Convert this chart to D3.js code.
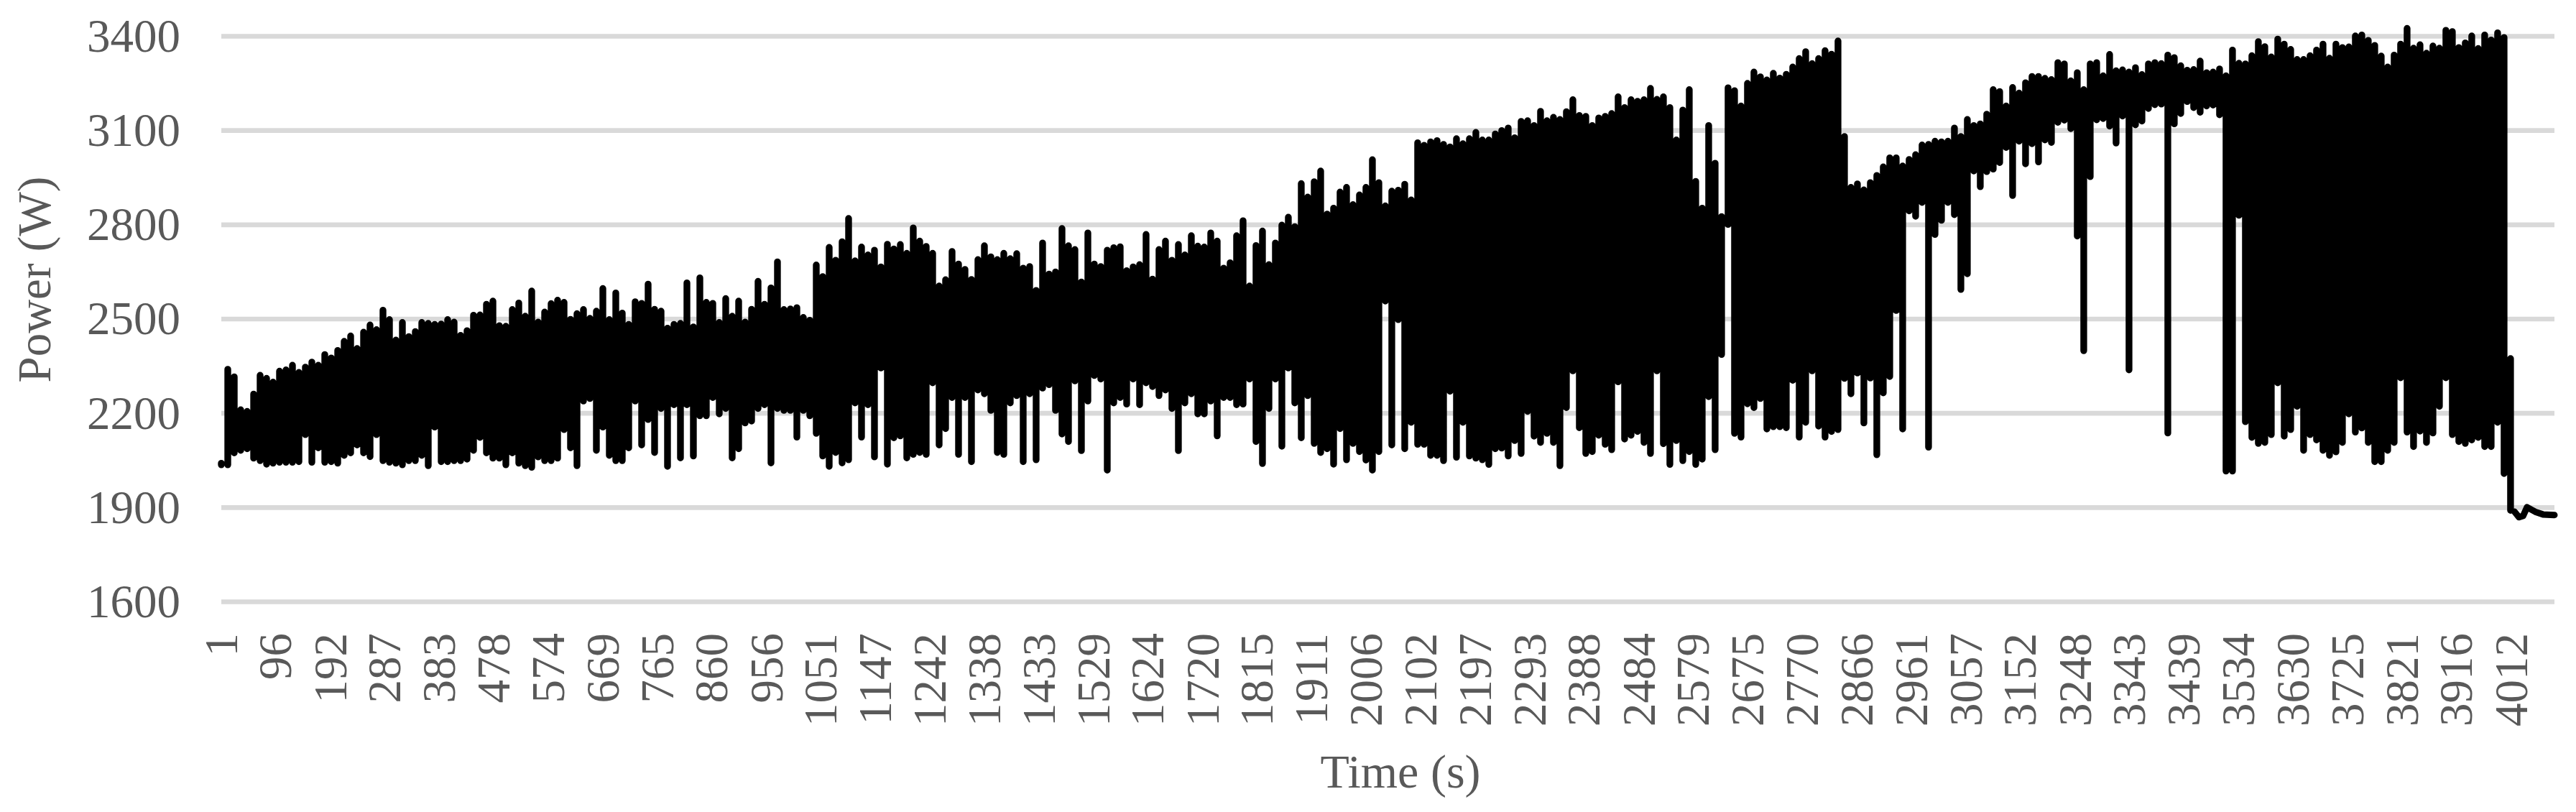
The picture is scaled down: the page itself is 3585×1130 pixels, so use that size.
<!DOCTYPE html>
<html>
<head>
<meta charset="utf-8">
<script src="https://cdnjs.cloudflare.com/ajax/libs/d3/7.9.0/d3.min.js"></script>
<style>
html,body{margin:0;padding:0;background:#fff;}
svg{display:block;}
text{font-family:"Liberation Serif","Times New Roman",serif;fill:#595959;}
</style>
</head>
<body>
<svg id="chart" width="3585" height="1130"></svg>
<script>
const powerTicks = [1600,1900,2200,2500,2800,3100,3400];
const timeTicks = [1,96,192,287,383,478,574,669,765,860,956,1051,1147,1242,1338,1433,1529,1624,1720,1815,1911,2006,2102,2197,2293,2388,2484,2579,2675,2770,2866,2961,3057,3152,3248,3343,3439,3534,3630,3725,3821,3916,4012];
const xTitle = "Time (s)";
const yTitle = "Power (W)";
const sampleStep = 11.328;
const powerHigh = [
2040,2339,2315,2210,2205,2260,2320,2310,2298,2333,
2337,2352,2329,2346,2362,2352,2386,2375,2399,2428,
2445,2405,2457,2480,2465,2527,2497,2432,2488,2443,
2459,2488,2485,2482,2483,2497,2489,2447,2462,2511,
2512,2546,2556,2478,2476,2529,2550,2508,2588,2489,
2521,2548,2559,2552,2498,2516,2529,2501,2524,2596,
2497,2582,2518,2482,2554,2549,2610,2530,2524,2470,
2482,2485,2614,2474,2630,2552,2549,2488,2564,2508,
2556,2489,2530,2619,2546,2598,2681,2529,2531,2535,
2504,2495,2671,2634,2727,2686,2745,2819,2684,2728,
2703,2718,2665,2737,2722,2736,2708,2789,2747,2730,
2708,2604,2624,2714,2674,2657,2625,2688,2732,2697,
2688,2708,2691,2707,2661,2666,2590,2741,2642,2649,
2787,2732,2720,2617,2773,2674,2666,2718,2726,2729,
2653,2665,2672,2768,2626,2720,2747,2686,2736,2703,
2764,2731,2728,2773,2747,2661,2678,2764,2812,2604,
2733,2779,2672,2741,2798,2823,2793,2930,2887,2936,
2970,2833,2852,2903,2918,2863,2894,2918,3006,2933,
2859,2906,2909,2928,2878,3060,3052,3063,3067,3055,
3047,3073,3057,3073,3093,3069,3069,3088,3099,3107,
3076,3128,3130,3115,3160,3130,3141,3134,3159,3197,
3147,3144,3115,3139,3144,3153,3206,3172,3197,3192,
3197,3233,3198,3206,3172,3069,3164,3229,2937,2852,
3115,2995,2825,3235,3226,3177,3249,3285,3270,3260,
3281,3266,3278,3301,3328,3350,3312,3328,3353,3342,
3384,3080,2918,2929,2910,2933,2956,2983,3012,3012,
2986,3007,3022,3053,3055,3065,3063,3065,3107,3080,
3134,3115,3120,3151,3229,3223,3177,3236,3218,3251,
3271,3271,3265,3261,3315,3311,3257,3283,3229,3311,
3315,3273,3341,3289,3292,3285,3299,3277,3311,3315,
3312,3339,3331,3305,3291,3293,3320,3283,3285,3295,
3273,3355,3313,3311,3337,3382,3366,3333,3390,3374,
3357,3325,3325,3337,3355,3374,3329,3374,3363,3365,
3400,3403,3386,3370,3336,3301,3339,3374,3424,3361,
3372,3345,3368,3361,3418,3414,3363,3378,3400,3360,
3403,3387,3410,3395,2373];
const powerLow = [
2035,2035,2073,2081,2086,2056,2048,2037,2040,2043,
2043,2043,2045,2131,2043,2089,2043,2045,2040,2065,
2073,2098,2073,2061,2131,2048,2043,2040,2035,2048,
2048,2065,2032,2155,2045,2045,2048,2048,2053,2081,
2122,2073,2056,2056,2035,2073,2040,2032,2027,2060,
2048,2048,2056,2147,2089,2032,2238,2246,2081,2155,
2065,2048,2048,2089,2238,2098,2179,2074,2214,2030,
2226,2057,2226,2063,2191,2191,2249,2197,2214,2057,
2086,2168,2174,2214,2226,2041,2214,2208,2208,2123,
2208,2191,2135,2063,2030,2074,2041,2051,2232,2123,
2226,2060,2343,2037,2121,2127,2057,2068,2074,2068,
2296,2098,2150,2249,2068,2249,2045,2273,2261,2208,
2074,2068,2232,2255,2045,2261,2051,2279,2290,2208,
2133,2109,2302,2080,2238,2319,2308,2018,2232,2249,
2228,2308,2226,2296,2284,2255,2273,2214,2080,2232,
2261,2197,2197,2238,2127,2249,2249,2226,2228,2308,
2109,2039,2214,2308,2094,2343,2232,2121,2255,2103,
2074,2086,2037,2150,2051,2103,2077,2050,2018,2077,
2556,2098,2497,2086,2170,2100,2100,2065,2065,2048,
2269,2059,2170,2063,2056,2051,2036,2086,2088,2063,
2112,2071,2205,2126,2106,2135,2106,2032,2217,2334,
2153,2071,2077,2129,2100,2083,2299,2117,2129,2141,
2106,2071,2334,2102,2036,2112,2048,2077,2036,2053,
2252,2083,2386,2800,2135,2123,2229,2217,2246,2149,
2156,2156,2153,2304,2123,2170,2334,2158,2123,2141,
2147,2310,2261,2327,2168,2311,2067,2264,2316,2526,
2149,2843,2826,2870,2091,2768,2813,2870,2831,2593,
2643,2970,2920,2968,2976,2997,3045,2892,3065,2993,
3057,2999,3069,3061,3125,3132,3105,2763,2398,2952,
3133,3137,3113,3059,3145,2337,3117,3129,3169,3181,
3183,2136,3120,3153,3191,3172,3157,3177,3180,3149,
2015,2015,2829,2172,2122,2103,2106,2131,2296,2126,
2147,2221,2081,2131,2114,2081,2065,2076,2106,2197,
2139,2152,2106,2045,2045,2081,2106,2312,2139,2093,
2142,2106,2136,2221,2312,2131,2109,2103,2114,2122,
2093,2093,2170,2007,1890];
const tailSeconds = [4018,4026,4033,4040,4048,4056,4068,4088];
const tailPower = [1886,1868,1872,1900,1892,1884,1877,1875];

const svg = d3.select("#chart");
const x = d3.scaleLinear().domain([1,4088]).range([308,3555]);
const y = d3.scaleLinear().domain([1600,3400]).range([837,50]);

// Gridlines
const grid = svg.append("g").attr("transform","translate(308,0)")
  .call(d3.axisLeft(y).tickValues(powerTicks).tickSize(-3247).tickFormat(""));
grid.select(".domain").remove();
grid.selectAll("line").attr("stroke","#d9d9d9").attr("stroke-width",6.7);

// Y axis labels
const yAxis = svg.append("g").attr("transform","translate(251,0)")
  .call(d3.axisLeft(y).tickValues(powerTicks).tickSize(0).tickPadding(0).tickFormat(d3.format("d")));
yAxis.select(".domain").remove();
yAxis.selectAll("text").style("font-size","65px")
  .attr("font-family",null).attr("dy","0.33em");

// X axis labels
const xAxis = svg.append("g").attr("transform","translate(0,837)")
  .call(d3.axisBottom(x).tickValues(timeTicks).tickSize(0).tickFormat(d3.format("d")));
xAxis.select(".domain").remove();
xAxis.selectAll("text").style("font-size","65px").attr("font-family",null)
  .attr("text-anchor","end").attr("x",0).attr("y",0).attr("dy","0.33em")
  .attr("transform","translate(0,44) rotate(-90)");

// Titles
svg.append("text").text(xTitle).attr("x",1949).attr("y",1096)
  .attr("text-anchor","middle").style("font-size","66px");
svg.append("text").text(yTitle).attr("transform","translate(70,389) rotate(-90)")
  .attr("text-anchor","middle").style("font-size","65px");

// Power trace: per-sample high/low excursions, then the final settling tail
const samplePoints = [];
powerHigh.forEach((h,i)=>{
  const t = 1 + i*sampleStep;
  samplePoints.push({t,p:h},{t,p:powerLow[i]},{t,p:NaN});
});
const line = d3.line().defined(d=>!isNaN(d.p)).x(d=>x(d.t)).y(d=>y(d.p));
svg.append("path").datum(samplePoints).attr("d",line)
  .attr("fill","none").attr("stroke","#000").attr("stroke-width",9.4)
  .attr("stroke-linecap","round").attr("stroke-linejoin","round");
svg.append("path").datum(tailSeconds.map((t,i)=>({t,p:tailPower[i]}))).attr("d",line)
  .attr("fill","none").attr("stroke","#000").attr("stroke-width",9)
  .attr("stroke-linecap","round").attr("stroke-linejoin","round");
</script>
</body>
</html>
